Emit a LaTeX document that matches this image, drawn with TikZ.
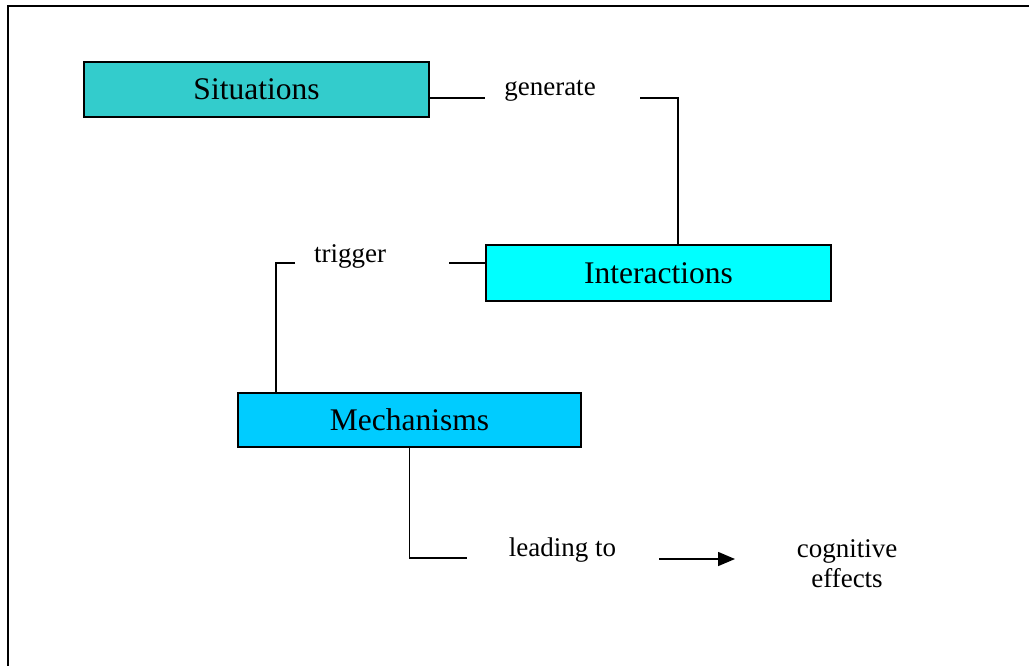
\documentclass[tikz,border=0pt]{standalone}
\usepackage{fontspec}
\setmainfont{Liberation Serif}
\usetikzlibrary{arrows.meta}

\definecolor{sitcol}{HTML}{33CCCC}
\definecolor{intcol}{HTML}{00FFFF}
\definecolor{mechcol}{HTML}{00CCFF}

\begin{document}
\begin{tikzpicture}[x=1pt,y=-1pt,line width=1.6pt]
		\clip (0,0) rectangle (1029,665);
		% frame, cut off at right and bottom
		\draw (8,700) -- (8,6) -- (1060,6);
		\begin{scope}[every node/.style={rectangle,draw,line width=1.6pt,inner sep=0pt,
						font=\fontsize{31.5}{36}\selectfont}]
				\node[fill=sitcol,minimum width=345,minimum height=55] (sit) at (256.5,89.5) {Situations};
				\node[fill=intcol,minimum width=345,minimum height=56] (int) at (658.5,273) {Interactions};
				\node[fill=mechcol,minimum width=343,minimum height=54] (mech) at (409.5,420) {Mechanisms};
		\end{scope}
		\begin{scope}[every node/.style={anchor=base,inner sep=0pt,
						font=\fontsize{27}{30}\selectfont}]
				\node (gen) at (550,95) {generate};
				\node (trg) at (350,262) {trigger};
				\node (lead) at (562.5,556) {leading to};
				\node[align=center,font=\fontsize{27}{30}\selectfont] (cog) at (847,587) {cognitive\\effects};
		\end{scope}
		\coordinate (genL) at (485,98);
		\coordinate (genR) at (640,98);
		\coordinate (genB) at (678,98);
		\coordinate (trgR) at (449,263);
		\coordinate (trgL) at (295,263);
		\coordinate (trgB) at (276,263);
		\coordinate (leadL) at (467,558);
		\coordinate (arrS) at (659,559);
		\coordinate (arrE) at (735,559);
		\begin{scope}[>={Triangle[length=17pt,width=14pt]}]
				\draw (sit.east |- genL) -- (genL);
				\draw (genR) -- (genB) -- (genB |- int.north);
				\draw (int.west |- trgR) -- (trgR);
				\draw (trgL) -- (trgB) -- (trgB |- mech.north);
				\draw (mech.south) |- (leadL);
				\draw[->] (arrS) -- (arrE);
		\end{scope}
\end{tikzpicture}
\end{document}
